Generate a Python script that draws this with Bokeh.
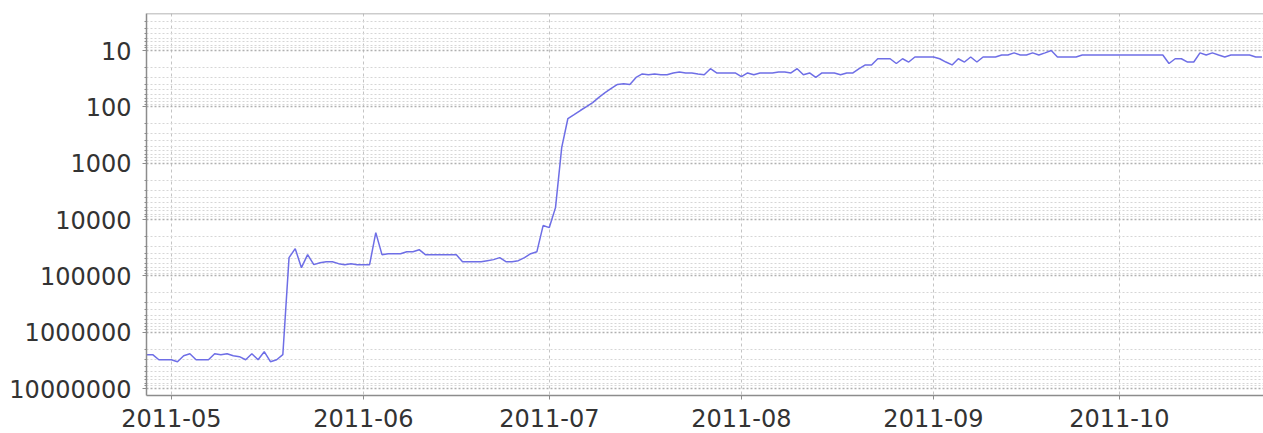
import pandas as pd
from bokeh.plotting import figure
from bokeh.models import (Range1d, FixedTicker, PrintfTickFormatter, DatetimeTickFormatter,
                          Span, ColumnDataSource)
from bokeh.embed import file_html
from bokeh.resources import INLINE

# ---- data (daily rank) ----
start_date = "2011-04-27"
ranks = [
    2510000, 2510000, 3080000, 3080000, 3080000, 3340000, 2610000, 2410000, 3080000, 3080000,
    3080000, 2410000, 2510000, 2410000, 2610000, 2720000, 3080000, 2410000, 3080000, 2220000,
    3340000, 3080000, 2510000, 47500, 32900, 71500, 42000, 63200, 58300, 56000,
    56000, 60700, 63200, 60700, 63200, 63200, 63200, 17100, 42000, 40400,
    40400, 40400, 37200, 37200, 34300, 42000, 42000, 42000, 42000, 42000,
    42000, 56000, 56000, 56000, 56000, 53700, 51500, 47500, 56000, 56000,
    53700, 47500, 40400, 37200, 12800, 13900, 6150, 529, 161, 137,
    116, 99, 84, 68, 56, 47, 40, 39, 40, 30,
    26, 27, 26, 27, 27, 25, 24, 25, 25, 26,
    27, 21, 25, 25, 25, 25, 29, 25, 27, 25,
    25, 25, 24, 24, 25, 21, 27, 25, 30, 25,
    25, 25, 27, 25, 25, 21, 18, 18, 14, 14,
    14, 17, 14, 16, 13, 13, 13, 13, 14, 16,
    18, 14, 16, 13, 16, 13, 13, 13, 12, 12,
    11, 12, 12, 11, 12, 11, 10, 13, 13, 13,
    13, 12, 12, 12, 12, 12, 12, 12, 12, 12,
    12, 12, 12, 12, 12, 17, 14, 14, 16, 16,
    11, 12, 11, 12, 13, 12, 12, 12, 12, 13,
    13,
]
dates = pd.date_range(start_date, periods=len(ranks), freq="D")

x_tick_dates = ["2011-05-01", "2011-06-01", "2011-07-01", "2011-08-01", "2011-09-01", "2011-10-01"]
y_ticks = [10, 100, 1000, 10000, 100000, 1000000, 10000000]
y_minor = [m * 10 ** k for k in range(0, 7) for m in range(2, 10) if 2.2 < m * 10 ** k < 1.33e7]

x_start = pd.Timestamp("2011-04-27 00:00")
x_end = pd.Timestamp("2011-10-24 06:00")

src = ColumnDataSource(dict(date=dates, rank=ranks))

p = figure(width=1263, height=433, x_axis_type="datetime", y_axis_type="log",
           x_range=Range1d(x_start, x_end), y_range=Range1d(1.33e7, 2.2),
           output_backend="svg", toolbar_location=None,
           min_border_left=146, min_border_top=13, min_border_right=0, min_border_bottom=38,
           background_fill_color="white", border_fill_color="white")
p.outline_line_color = None

p.line(x="date", y="rank", source=src, line_color="#6e6ee6", line_width=1.5)

# top border of the plot area
p.add_layout(Span(location=2.2, dimension="width", line_color="#9a9a9a", line_width=1.5))

tick_ms = [pd.Timestamp(d).value // 10**6 for d in x_tick_dates]
p.xaxis.ticker = FixedTicker(ticks=tick_ms)
fmt = "%Y-%m"
p.xaxis.formatter = DatetimeTickFormatter(milliseconds=fmt, seconds=fmt, minsec=fmt, minutes=fmt,
                                          hourmin=fmt, hours=fmt, days=fmt, months=fmt, years=fmt)
p.yaxis.ticker = FixedTicker(ticks=y_ticks, minor_ticks=y_minor)
p.yaxis.formatter = PrintfTickFormatter(format="%d")

for ax in (p.xaxis[0], p.yaxis[0]):
    ax.axis_line_color = "#8c8c8c"
    ax.axis_line_width = 1.5
    ax.major_tick_line_color = "#8c8c8c"
    ax.major_tick_in = 0
    ax.major_tick_out = 4
    ax.major_label_text_font = "DejaVu Sans"
    ax.major_label_text_font_size = "24px"
    ax.major_label_text_color = "#333333"
    ax.major_label_text_font_style = "normal"
p.xaxis.minor_tick_line_color = None
p.xaxis.major_label_standoff = 9
p.yaxis.major_label_standoff = 11
p.yaxis.minor_tick_line_color = "#8c8c8c"
p.yaxis.minor_tick_in = 0
p.yaxis.minor_tick_out = 2

p.xgrid.grid_line_color = "#c4c4c4"
p.xgrid.grid_line_dash = "3 3"
p.ygrid.grid_line_color = "#b0b0b0"
p.ygrid.grid_line_dash = "2 2"
p.ygrid.grid_line_width = 1.5
p.ygrid.minor_grid_line_color = "#d6d6d6"
p.ygrid.minor_grid_line_dash = "2 2"

open("out.html", "w").write(file_html(p, INLINE))
